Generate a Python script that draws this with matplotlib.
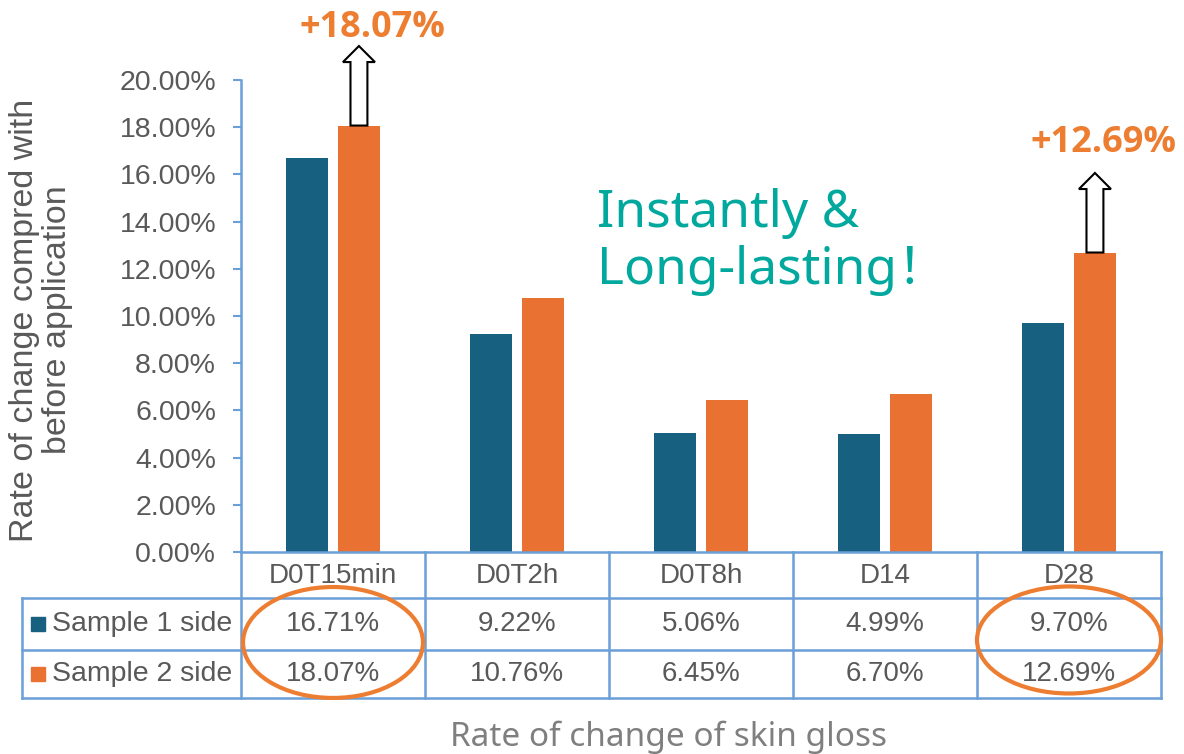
import matplotlib
matplotlib.use("Agg")
import matplotlib.pyplot as plt
import matplotlib.transforms as mtransforms
from matplotlib.patches import Ellipse, FancyArrow
import numpy as np

# data
categories = ["D0T15min", "D0T2h", "D0T8h", "D14", "D28"]
sample1 = [16.71, 9.22, 5.06, 4.99, 9.70]
sample2 = [18.07, 10.76, 6.45, 6.70, 12.69]
series_names = ["Sample 1 side", "Sample 2 side"]
yticks = [0, 2, 4, 6, 8, 10, 12, 14, 16, 18, 20]
highlight = [0, 4]   # columns with arrow + circle

# label nudges for the "+xx%" callouts (layout only)
label_dx = [0.076, 0.044]
label_dy = [0.78, 1.25]

blue = "#17607F"
orange = "#E97132"
ring = "#ED7D31"
line_blue = "#6A9FD8"
grey = "#595959"
teal = "#00A89E"

plt.rcParams['font.family'] = ['Liberation Sans', 'DejaVu Sans']

fig = plt.figure(figsize=(11.84, 7.54), dpi=100)
ax = fig.add_axes([241/1184, 1-552/754, 920/1184, 472/754])

x = np.arange(len(categories))
w = 0.228
off = 0.141
ax.bar(x-off, sample1, w, color=blue, zorder=2)
ax.bar(x+off, sample2, w, color=orange, zorder=2)

ax.set_yticks(yticks)
ax.set_yticklabels([f"{v:.2f}%" for v in yticks])
ax.tick_params(axis='y', colors=line_blue, labelcolor=grey, labelsize=20.5,
               length=6, width=1.5, pad=12)
ax.set_xticks([])
for s in ['top', 'right']:
    ax.spines[s].set_visible(False)
for s in ['left', 'bottom']:
    ax.spines[s].set_color(line_blue)
    ax.spines[s].set_linewidth(1.8)

# data table under the axis
trans = mtransforms.blended_transform_factory(ax.transData, ax.transAxes)
left_x = -0.5 - 219/184
rows_y = [0, -0.0975, -0.2076, -0.3093]
for yy in rows_y[1:]:
    ax.plot([left_x, 4.5], [yy, yy], color=line_blue, lw=1.8, transform=trans, clip_on=False)
ax.plot([left_x, left_x], [rows_y[1], rows_y[3]], color=line_blue, lw=1.8, transform=trans, clip_on=False)
for i in range(len(categories)+1):
    ax.plot([i-0.5, i-0.5], [0, rows_y[3]], color=line_blue, lw=1.8, transform=trans, clip_on=False)

for i, c in enumerate(categories):
    ax.text(i, -0.0498, c, ha='center', va='center', fontsize=20, color=grey, transform=trans)

row_c = [-0.1525, -0.2585]
for vals, name, col, yc in zip([sample1, sample2], series_names, [blue, orange], row_c):
    ax.plot([-1.603], [yc], marker='s', ms=10, color=col, transform=trans, clip_on=False)
    ax.text(-1.527, yc, name, ha='left', va='center', fontsize=20.5, color=grey, transform=trans)
    for i, v in enumerate(vals):
        ax.text(i, yc, f"{v:.2f}%", ha='center', va='center', fontsize=20, color=grey, transform=trans)

# circles around highlighted columns
ax.add_patch(Ellipse((0, -0.1917), 0.978, 0.235, fill=False, ec=ring, lw=3,
                     transform=trans, clip_on=False, zorder=5))
ax.add_patch(Ellipse((4.0, -0.1864), 1.0, 0.2267, fill=False, ec=ring, lw=3,
                     transform=trans, clip_on=False, zorder=5))

# hollow arrows + labels
for k, i in enumerate(highlight):
    ax.add_patch(FancyArrow(i+off, sample2[i], 0, 3.37, width=0.092, head_width=0.174,
                            head_length=0.68, length_includes_head=True, fc='white',
                            ec='black', lw=1.5, clip_on=False, zorder=4))
    ax.text(i+off+label_dx[k], sample2[i]+3.37+label_dy[k], f"+{sample2[i]:.2f}%",
            ha='center', va='center', fontsize=26, fontweight='bold', color=ring,
            family=['Open Sans', 'Noto Sans', 'DejaVu Sans'], clip_on=False)

ax.text(1.435, 13.14, "Instantly &\nLong-lasting！", fontsize=37, color=teal,
        family=['Noto Sans', 'Noto Sans CJK SC'], va='center', ha='left', linespacing=1.15)

ax.set_xlim(-0.5, 4.5)
ax.set_ylim(0, 20)

fig.text(41/1184, 1-320/754, "Rate of change compred with\nbefore application", rotation=90,
         ha='center', va='center', fontsize=24.5, color=grey, linespacing=1.1)
fig.text(668/1184, 1-737/754, "Rate of change of skin gloss", ha='center', va='center',
         fontsize=24, color='#7F7F7F', family=['Noto Sans', 'DejaVu Sans'])

fig.savefig("out.png", dpi=100)
